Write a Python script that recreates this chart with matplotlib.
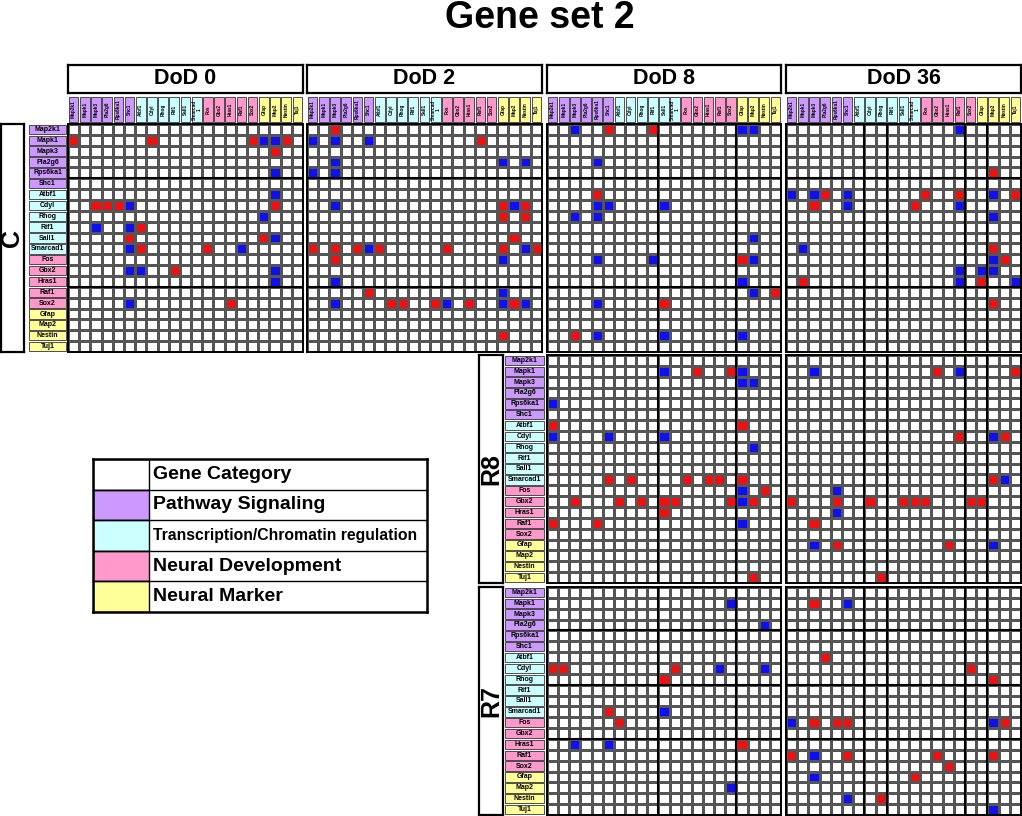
import numpy as np
import matplotlib
matplotlib.use("Agg")
import matplotlib.pyplot as plt
from matplotlib.colors import ListedColormap

plt.rcParams['font.family'] = ['Liberation Sans', 'DejaVu Sans']

# genes are the same on rows and columns of every block
GENES = ["Map2k1", "Mapk1", "Mapk3", "Pla2g6", "Rps6ka1", "Shc1",
         "Atbf1", "Cdyl", "Rhog", "Rif1", "Sall1", "Smarcad1",
         "Fos", "Gbx2", "Hras1", "Raf1", "Sox2",
         "Gfap", "Map2", "Nestin", "Tuj1"]
GENE_CAT = [1, 1, 1, 1, 1, 1,
            2, 2, 2, 2, 2, 2,
            3, 3, 3, 3, 3,
            4, 4, 4, 4]
COL_LABELS = GENES[:11] + ["Smarcad\n1"] + GENES[12:]

CATEGORIES = ["Gene Category", "Pathway Signaling", "Transcription/Chromatin regulation",
              "Neural Development", "Neural Marker"]
CAT_COLORS = ["white", "#CC99FF", "#CCFFFF", "#FF99CC", "#FFFF99"]

DOD_LABELS = ["DoD 0", "DoD 2", "DoD 8", "DoD 36"]

# (row gene index, column gene index)
RED = {
    ("C", 0): [(1, 0), (1, 7), (1, 16), (1, 19), (2, 18), (7, 2), (7, 3), (7, 4), (7, 18),
               (9, 6), (10, 5), (10, 17), (11, 6), (11, 12), (13, 9), (16, 14)],
    ("C", 1): [(0, 2), (1, 15), (7, 17), (7, 19), (8, 17), (8, 19), (10, 18), (11, 0), (11, 2),
               (11, 4), (11, 6), (11, 12), (11, 17), (11, 20), (12, 2), (15, 5), (16, 7), (16, 8),
               (16, 11), (16, 14), (16, 18), (19, 17)],
    ("C", 2): [(0, 5), (0, 9), (6, 4), (12, 17), (15, 20), (16, 10), (19, 2)],
    ("C", 3): [(4, 18), (6, 3), (6, 12), (6, 15), (6, 20), (7, 2), (7, 11), (11, 18), (12, 19),
               (14, 1), (14, 17), (16, 18)],
    ("R8", 2): [(1, 13), (1, 16), (6, 0), (6, 17), (11, 5), (11, 7), (11, 12), (11, 14), (11, 15),
                (11, 17), (12, 19), (13, 2), (13, 6), (13, 8), (13, 10), (13, 11), (13, 16), (13, 18),
                (14, 10), (15, 0), (15, 4), (20, 18)],
    ("R8", 3): [(1, 13), (1, 20), (7, 15), (7, 19), (11, 18), (13, 0), (13, 4), (13, 7), (13, 10),
                (13, 11), (13, 12), (13, 16), (13, 17), (15, 2), (17, 4), (17, 14), (20, 8)],
    ("R7", 2): [(7, 0), (7, 1), (7, 11), (8, 10), (11, 5), (12, 6), (14, 17)],
    ("R7", 3): [(1, 2), (6, 3), (7, 16), (8, 18), (12, 2), (12, 4), (12, 5), (12, 19), (15, 0),
                (15, 5), (15, 13), (15, 18), (16, 14), (17, 11), (19, 8)],
}
BLUE = {
    ("C", 0): [(1, 17), (1, 18), (4, 18), (6, 18), (7, 5), (8, 17), (9, 2), (9, 5), (10, 18),
               (11, 5), (11, 15), (13, 5), (13, 6), (13, 18), (14, 18), (16, 5)],
    ("C", 1): [(1, 0), (1, 2), (1, 5), (3, 2), (3, 17), (3, 19), (4, 0), (4, 2), (7, 2), (7, 18),
               (11, 5), (11, 19), (12, 17), (14, 2), (15, 17), (16, 2), (16, 12), (16, 17), (16, 19)],
    ("C", 2): [(0, 2), (0, 17), (0, 18), (3, 4), (7, 4), (7, 5), (7, 10), (8, 2), (8, 4), (10, 18),
               (12, 4), (12, 9), (12, 18), (14, 17), (15, 18), (16, 4), (19, 4), (19, 10), (19, 17)],
    ("C", 3): [(0, 15), (6, 0), (6, 2), (6, 5), (6, 18), (7, 5), (7, 15), (8, 18), (11, 1), (12, 18),
               (13, 15), (13, 17), (13, 18), (14, 15), (14, 20)],
    ("R8", 2): [(1, 10), (1, 17), (2, 17), (2, 18), (4, 0), (7, 0), (7, 5), (7, 10), (8, 18),
                (12, 17), (13, 17), (15, 17)],
    ("R8", 3): [(1, 2), (1, 15), (7, 18), (11, 19), (12, 4), (14, 4), (17, 2), (17, 18)],
    ("R7", 2): [(1, 16), (3, 19), (7, 15), (7, 19), (11, 10), (14, 2), (14, 5), (18, 16)],
    ("R7", 3): [(1, 5), (12, 0), (12, 18), (15, 2), (17, 2), (19, 5), (20, 18)],
}

# layout, in pixels of the 1022x816 picture
W, H = 1022, 816
COL_X = [(68, 303), (307, 542), (547, 781), (786, 1021)]
ROW_Y = {"C": (124, 352), "R8": (355, 583), "R7": (587, 815)}
LABEL_X = {"C": (1, 24, 28, 67), "R8": (479, 503, 504, 545), "R7": (479, 503, 504, 545)}
THICK_ROWS = {"C": [5, 15], "R8": [], "R7": [4, 9, 14]}
THICK_COLS = [[], [], [10, 17], [7, 9, 16, 18]]

RED_C, BLUE_C = "#EE1111", "#1010EE"
cmap = ListedColormap(["white", RED_C, BLUE_C])

fig = plt.figure(figsize=(W / 100, H / 100), dpi=100)


def box(x0, y0, x1, y1):
    return fig.add_axes([x0 / W, 1 - y1 / H, (x1 - x0) / W, (y1 - y0) / H])


def clean(ax, lw=1.5):
    ax.set_xticks([])
    ax.set_yticks([])
    for s in ax.spines.values():
        s.set_linewidth(lw)


n = len(GENES)
cat_colors = [CAT_COLORS[c] for c in GENE_CAT]

fig.text(540 / W, 1 - 18 / H, "Gene set 2", ha='center', va='center',
         fontsize=27, fontweight='bold')

# DoD headers and column label strips
for j, (x0, x1) in enumerate(COL_X):
    ax = box(x0, 65, x1, 93)
    clean(ax, 1.6)
    ax.text(0.5, 0.5, DOD_LABELS[j], ha='center', va='center', fontsize=15.5,
            fontweight='bold', transform=ax.transAxes)

    ax = box(x0, 96, x1, 123)
    ax.bar(np.arange(n) + 0.5, 1, width=0.86, color=cat_colors, edgecolor='#333333', linewidth=0.6)
    for i, lab in enumerate(COL_LABELS):
        ax.text(i + 0.5, 0.5, lab, rotation=90, ha='center', va='center', fontsize=3.4,
                fontweight='bold', linespacing=0.9)
    ax.set_xlim(0, n)
    ax.set_ylim(-0.02, 1.02)
    ax.axis('off')

# row blocks
for name, (y0, y1) in ROW_Y.items():
    bx0, bx1, lx0, lx1 = LABEL_X[name]
    ax = box(bx0, y0, bx1, y1)
    clean(ax, 1.6)
    ax.text(0.5, 0.5, name, rotation=90, ha='center', va='center', fontsize=18,
            fontweight='bold', transform=ax.transAxes)

    ax = box(lx0, y0, lx1, y1)
    ax.barh(np.arange(n) + 0.5, 1, height=0.86, color=cat_colors, edgecolor='#333333', linewidth=0.6)
    for i, g in enumerate(GENES):
        ax.text(0.5, i + 0.5, g, ha='center', va='center', fontsize=5, fontweight='bold')
    ax.set_xlim(-0.03, 1.03)
    ax.set_ylim(n, 0)
    ax.axis('off')

    for j, (x0, x1) in enumerate(COL_X):
        key = (name, j)
        if key not in RED:
            continue
        m = np.zeros((n, n))
        for r, c in RED[key]:
            m[r, c] = 1
        for r, c in BLUE[key]:
            m[r, c] = 2
        ax = box(x0, y0, x1, y1)
        ax.pcolormesh(m, cmap=cmap, vmin=0, vmax=2, edgecolors='#555555', linewidth=0.75)
        for y in THICK_ROWS[name]:
            ax.axhline(y, color='black', lw=1.5)
        for x in THICK_COLS[j]:
            ax.axvline(x, color='black', lw=1.5)
        ax.set_xlim(0, n)
        ax.set_ylim(n, 0)
        clean(ax, 1.4)

# category legend
ax = box(93, 459, 427, 612)
sw = 56 / 334
ax.barh(np.arange(len(CATEGORIES)) + 0.5, sw, height=1, color=CAT_COLORS, edgecolor='black', linewidth=1)
for i, lab in enumerate(CATEGORIES):
    ax.text(sw + 0.012, i + 0.5, lab, ha='left', va='center', fontweight='bold',
            fontsize=11.3 if i == 2 else 14)
    if i:
        ax.axhline(i, color='black', lw=1)
ax.set_xlim(0, 1)
ax.set_ylim(len(CATEGORIES), 0)
clean(ax, 1.8)

fig.savefig("out.png", dpi=100)
